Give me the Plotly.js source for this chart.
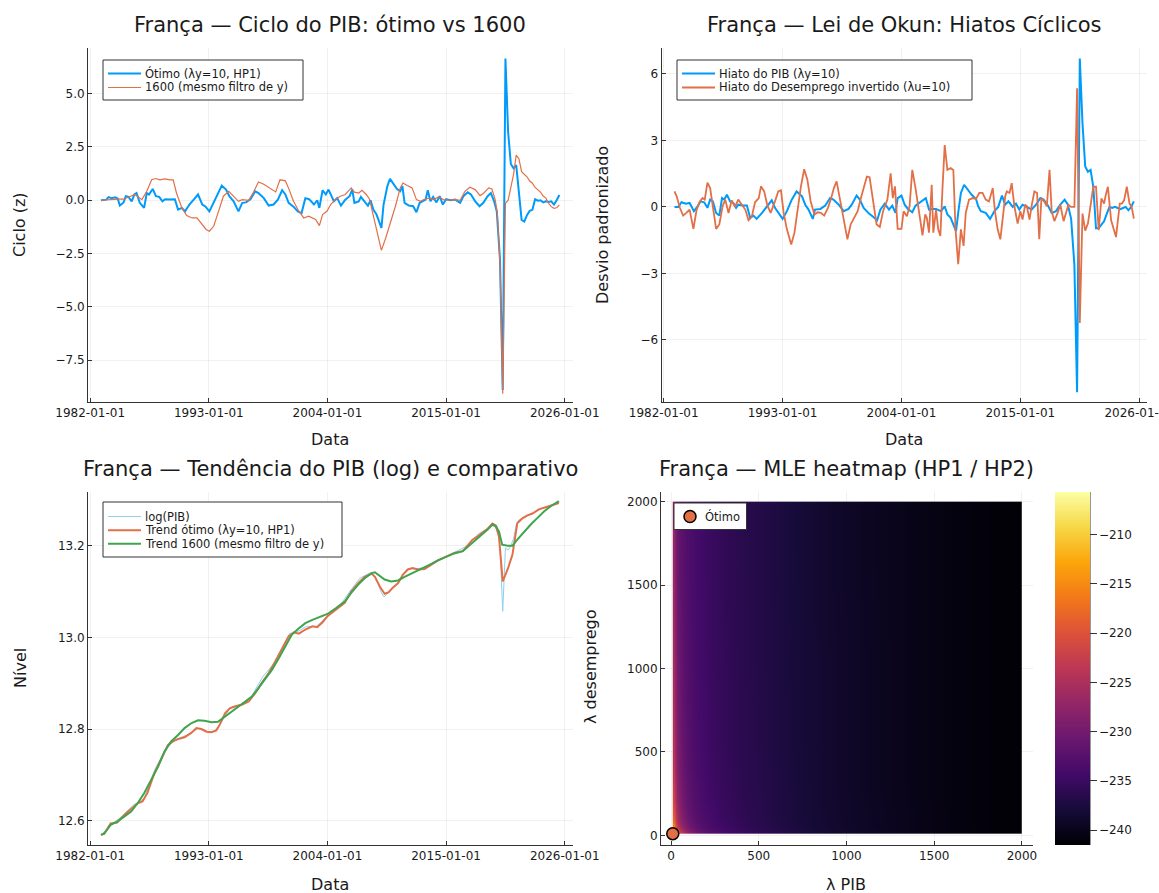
<!DOCTYPE html>
<html><head><meta charset="utf-8">
<script src="https://cdn.plot.ly/plotly-3.0.1.min.js"></script>
<style>html,body{margin:0;padding:0;background:#fff}</style>
</head><body>
<div id="chart" style="width:1159px;height:893px"></div>
<script>
// ---------- DATA (decimal years / values) ----------
const tickDates = ['1982-01-01','1993-01-01','2004-01-01','2015-01-01','2026-01-01'];

// Panel 1: cycle optimum (blue) and 1600 (orange)
const cycOptT = [1983.0,1983.5,1983.7,1984.0,1984.3,1984.55,1984.75,1985.1,1985.3,1985.55,1985.85,1986.1,1986.3,1986.6,1987.0,1987.25,1987.45,1987.8,1988.1,1988.4,1988.7,1988.95,1989.4,1989.85,1990.15,1990.5,1990.8,1991.2,1991.6,1992.0,1992.4,1992.7,1993.05,1993.45,1993.85,1994.2,1994.6,1994.9,1995.3,1995.75,1996.1,1996.45,1996.85,1997.3,1997.6,1998.1,1998.55,1999.0,1999.4,1999.8,2000.1,2000.4,2000.85,2001.25,2001.6,2001.95,2002.3,2002.75,2003.05,2003.25,2003.55,2003.85,2004.1,2004.35,2004.6,2004.9,2005.25,2005.65,2006.05,2006.3,2006.5,2006.9,2007.1,2007.5,2007.75,2008.0,2008.25,2008.55,2008.75,2009.0,2009.2,2009.55,2009.8,2010.15,2010.45,2010.75,2010.95,2011.15,2011.55,2011.95,2012.25,2012.55,2012.9,2013.1,2013.3,2013.55,2013.8,2014.1,2014.4,2014.7,2015.0,2015.4,2015.85,2016.3,2016.6,2017.0,2017.3,2017.7,2018.1,2018.45,2018.85,2019.15,2019.45,2019.7,2020.0,2020.25,2020.5,2020.75,2021.0,2021.25,2021.5,2021.75,2022.0,2022.25,2022.5,2022.75,2023.0,2023.25,2023.5,2023.75,2024.0,2024.25,2024.5,2024.75,2025.0,2025.25,2025.5];
const cycOptV = [0,0.03,0.15,0.1,0.14,0.08,-0.25,-0.1,0.19,0.16,-0.05,0.27,0.34,-0.12,-0.36,0.34,0.27,0.53,0.19,0.16,-0.05,0.05,0.03,0.05,-0.44,-0.36,-0.52,-0.2,0.03,0.27,-0.2,-0.3,-0.52,-0.12,0.34,0.69,0.5,0.19,-0.05,-0.52,-0.12,-0.1,0.05,0.42,0.34,0.1,-0.25,-0.2,0.03,0.47,0.27,-0.12,-0.3,-0.52,-0.6,0.1,0.05,-0.2,0.0,-0.36,0.47,0.27,0.5,0.19,-0.05,0.1,-0.25,0.03,0.19,0.5,-0.12,-0.05,0.16,-0.1,-0.25,0,-0.44,-0.67,-0.98,-1.3,-0.2,0.66,1.0,0.73,0.53,0.42,0.66,-0.12,-0.25,-0.28,-0.56,-0.12,0,0.03,0.47,-0.05,0.16,-0.1,0.19,-0.2,0.05,0,0.03,-0.12,0.19,0.37,0.27,-0.05,-0.28,-0.12,0.19,0.34,-0.05,-0.52,-2.8,-8.9,6.65,3.2,1.7,1.5,1.65,0.4,-0.92,-1.0,-0.7,-0.5,-0.45,0.05,-0.02,0.0,-0.1,-0.05,-0.08,-0.05,-0.2,0.0,0.25];

const cyc1600T = [1983.0,1984.0,1984.6,1985.1,1985.7,1986.15,1986.8,1987.25,1987.7,1988.1,1988.45,1988.95,1989.4,1989.7,1990.0,1990.5,1990.95,1991.45,1991.9,1992.4,1992.75,1993.05,1993.45,1993.9,1994.35,1994.85,1995.3,1995.75,1996.1,1996.7,1997.15,1997.6,1998.1,1998.7,1999.2,1999.6,2000.1,2000.45,2000.85,2001.3,2001.8,2002.25,2002.9,2003.25,2003.55,2003.95,2004.3,2004.75,2005.2,2005.65,2006.2,2006.5,2006.9,2007.2,2007.6,2007.9,2008.15,2008.45,2008.75,2009.0,2009.4,2009.85,2010.3,2010.75,2011.0,2011.4,2011.85,2012.25,2012.6,2013.0,2013.4,2013.85,2014.3,2014.75,2015.2,2015.85,2016.3,2016.75,2017.2,2017.7,2018.15,2018.5,2018.95,2019.25,2019.55,2019.75,2020.0,2020.25,2020.5,2020.75,2021.0,2021.25,2021.5,2021.75,2022.0,2022.25,2022.5,2022.75,2023.0,2023.25,2023.5,2023.75,2024.0,2024.25,2024.5,2024.75,2025.0,2025.25,2025.5];
const cyc1600V = [0,0.05,0.05,0.05,0.17,0.27,0.03,0.42,0.96,1.02,0.96,1.0,0.96,0.96,0.34,-0.36,-0.72,-0.83,-0.83,-1.14,-1.37,-1.45,-1.22,-0.52,0.19,0.42,0.19,-0.05,0.03,0.0,0.39,0.86,0.75,0.53,0.39,0.96,0.91,0.5,-0.05,-0.47,-0.83,-0.75,-0.9,-1.19,-0.67,-0.52,-0.2,0.05,0.19,0.27,0.58,0.38,0.34,0.47,0.27,0.05,-0.52,-1.22,-1.84,-2.35,-1.77,-1.06,-0.28,0.58,0.81,0.69,0.58,0.03,-0.05,0.05,0.1,0.03,0.16,0.03,0,0.03,0,0.42,0.61,0.5,0.22,0.34,0.58,0.53,0.03,-0.6,-3.0,-9.07,-0.14,0.0,0.6,1.2,2.12,1.95,1.34,1.2,1.1,0.9,0.8,0.6,0.5,0.38,0.2,0.1,-0.14,-0.3,-0.38,-0.35,-0.22];

// Panel 2: Okun gaps
const gapYT = [1983.0,1983.35,1983.65,1984.05,1984.4,1984.8,1985.1,1985.4,1985.75,1986.05,1986.3,1986.55,1986.85,1987.15,1987.4,1987.6,1987.85,1988.15,1988.45,1988.7,1988.9,1989.3,1989.7,1990.0,1990.3,1990.6,1991.1,1991.55,1992.0,1992.3,1992.6,1993.0,1993.4,1993.85,1994.3,1994.8,1995.1,1995.4,1995.8,1996.0,1996.5,1996.95,1997.4,1997.7,1998.2,1998.65,1999.1,1999.4,1999.85,2000.15,2000.5,2001.0,2001.4,2001.75,2002.05,2002.45,2002.85,2003.15,2003.45,2003.65,2004.0,2004.3,2004.6,2005.0,2005.3,2005.8,2006.25,2006.55,2006.85,2007.2,2007.65,2008.0,2008.25,2008.55,2008.8,2009.05,2009.25,2009.5,2009.8,2010.1,2010.5,2010.9,2011.1,2011.35,2011.8,2012.2,2012.6,2012.95,2013.3,2013.6,2013.9,2014.3,2014.6,2014.9,2015.2,2015.6,2016.05,2016.45,2016.85,2017.15,2017.55,2017.9,2018.3,2018.7,2019.1,2019.4,2019.7,2020.0,2020.25,2020.5,2020.75,2021.0,2021.25,2021.5,2021.75,2022.0,2022.25,2022.5,2022.75,2023.0,2023.25,2023.5,2023.75,2024.0,2024.25,2024.5,2024.75,2025.0,2025.25,2025.5];
const gapYV = [0,0,0.21,0.15,0.18,-0.19,0,0.25,0.21,-0.04,0.33,0.25,-0.27,-0.39,0.4,0.33,0.55,0.25,0.18,-0.04,0.1,0.06,0.06,-0.49,-0.39,-0.54,-0.27,0.03,0.3,-0.04,-0.27,-0.54,-0.19,0.33,0.7,0.48,0.1,-0.12,-0.54,-0.12,-0.09,0.06,0.4,0.33,0.1,-0.19,-0.09,0.1,0.51,0.33,-0.04,-0.3,-0.45,-0.6,-0.12,0.15,-0.12,0.06,-0.27,0.4,0.51,0.1,-0.09,-0.24,0.06,0.25,0.4,-0.12,-0.09,-0.09,-0.19,0.03,-0.34,-0.49,-0.79,-1.09,-0.27,0.63,1.0,0.81,0.55,0.36,0.03,-0.19,-0.27,-0.54,-0.19,0,0.51,0.1,0.25,0,0.15,-0.12,0.1,0,-0.12,0.1,0.4,0.33,0.06,-0.27,-0.19,0.1,0.33,0.1,-0.54,-2.6,-8.36,6.7,3.77,1.82,1.59,1.67,0.91,-0.96,-0.96,-0.8,-0.65,-0.3,0.0,-0.05,0.0,-0.05,-0.1,-0.05,0.0,-0.15,0.0,0.25];

const gapUT = [1983.0,1983.2,1983.5,1983.8,1984.1,1984.4,1984.75,1985.05,1985.35,1985.6,1985.8,1986.05,1986.3,1986.55,1986.85,1987.15,1987.45,1987.7,1988.0,1988.3,1988.6,1988.9,1989.25,1989.55,1989.85,1990.15,1990.45,1990.8,1991.0,1991.3,1991.6,1991.9,1992.3,1992.6,1992.85,1993.1,1993.4,1993.8,1994.1,1994.4,1994.7,1995.0,1995.3,1995.6,1995.95,1996.25,1996.55,1996.85,1997.2,1997.5,1997.75,1998.0,1998.3,1998.6,1999.0,1999.3,1999.6,1999.95,2000.25,2000.55,2000.8,2001.05,2001.4,2001.7,2002.0,2002.3,2002.7,2003.0,2003.2,2003.4,2003.65,2004.0,2004.2,2004.5,2004.75,2005.0,2005.3,2005.65,2005.95,2006.2,2006.35,2006.55,2006.8,2006.95,2007.2,2007.4,2007.6,2007.8,2008.0,2008.25,2008.55,2008.8,2009.0,2009.25,2009.5,2009.75,2009.95,2010.25,2010.6,2010.9,2011.2,2011.5,2011.8,2012.1,2012.45,2012.65,2012.9,2013.15,2013.35,2013.6,2013.75,2014.0,2014.2,2014.45,2014.75,2015.0,2015.2,2015.45,2015.6,2015.85,2016.05,2016.3,2016.55,2016.75,2016.95,2017.2,2017.45,2017.7,2017.9,2018.15,2018.45,2018.7,2019.0,2019.25,2019.45,2019.7,2020.0,2020.25,2020.5,2020.75,2021.0,2021.25,2021.5,2021.75,2022.0,2022.25,2022.5,2022.75,2022.9,2023.1,2023.4,2023.85,2024.2,2024.4,2024.6,2024.85,2025.1,2025.3,2025.5];
const gapUV = [0.7,0.48,-0.04,-0.39,-0.27,-0.12,-0.99,-0.12,0.25,0.4,0.33,1.1,0.85,0.1,-0.99,-0.79,0.03,0.33,-0.27,0.3,0,0.33,0.1,-0.12,-0.6,-0.45,0.21,0.4,0.93,0.7,0.06,-0.27,0.25,0.7,0.75,-0.27,-1.01,-1.69,-1.16,-0.12,0.93,1.7,1.22,0.25,-0.34,-0.24,-0.27,-0.39,-0.04,0.4,0.85,1.15,0.4,-0.34,-1.46,-0.79,-0.49,-0.19,0.4,0.93,1.37,1.34,0.18,-0.79,-0.9,-0.19,0.33,1.52,0.4,0.93,-0.99,-0.99,-0.2,-0.42,0.03,1.67,0.85,-0.19,-1.28,-0.34,-0.49,-1.16,1.0,-1.16,-0.12,-1.01,-1.31,0.85,2.79,1.67,1.75,1.67,-1.01,-2.58,-1.01,-1.76,-0.27,0.33,0.4,0.36,0.63,0.63,0.33,0.25,0.85,-0.19,-1.01,-1.46,-0.57,0.48,0.7,0.63,1.07,0.03,-0.75,-0.19,-0.57,0.1,0.03,-0.57,0.06,0.7,0.63,-1.46,0.4,0.25,0.03,1.67,-0.19,-0.64,-0.27,0.1,-0.64,-0.19,0.1,0.0,0.0,5.35,-5.24,-0.3,-1.07,-0.75,0.0,0.91,0.91,-1.05,0.38,0.15,0.53,0.91,-0.6,-1.36,0.15,0.15,0.3,0.91,0.15,0.0,-0.53];

// Panel 3: log GDP and trends
const logPibT = [1983.0,1984.0,1985.0,1986.0,1987.0,1988.0,1989.0,1990.0,1991.0,1992.0,1992.5,1993.0,1993.5,1994.0,1995.0,1996.0,1997.0,1998.0,1999.0,2000.0,2000.5,2001.0,2002.0,2003.0,2004.0,2005.0,2006.0,2007.0,2008.0,2008.5,2008.75,2009.0,2009.25,2009.5,2010.0,2010.5,2011.0,2011.5,2012.0,2013.0,2014.0,2015.0,2016.0,2017.0,2018.0,2019.0,2019.5,2019.75,2020.0,2020.25,2020.5,2020.75,2021.0,2021.25,2021.5,2021.75,2022.0,2022.5,2023.0,2023.5,2024.0,2024.5,2025.0,2025.5];
const logPibV = [12.569,12.592,12.611,12.634,12.648,12.712,12.757,12.778,12.787,12.801,12.799,12.793,12.796,12.809,12.847,12.854,12.873,12.914,12.942,12.985,13.009,13.009,13.023,13.024,13.046,13.064,13.098,13.129,13.141,13.130,13.112,13.097,13.088,13.094,13.108,13.119,13.138,13.150,13.149,13.152,13.166,13.176,13.188,13.200,13.226,13.240,13.246,13.243,13.200,13.057,13.195,13.190,13.200,13.215,13.245,13.256,13.260,13.266,13.270,13.277,13.282,13.286,13.289,13.295];

const trendOptT = [1983.0,1983.3,1983.9,1984.5,1985.3,1985.9,1986.4,1986.85,1987.3,1987.95,1988.6,1989.2,1989.65,1990.15,1990.75,1991.4,1991.85,1992.3,1992.8,1993.25,1993.7,1994.0,1994.5,1994.95,1995.4,1996.05,1996.7,1997.3,1997.9,1998.55,1999.15,1999.8,2000.4,2000.9,2001.35,2001.95,2002.6,2003.05,2003.55,2004.0,2004.8,2005.6,2006.2,2006.85,2007.45,2008.1,2008.4,2008.85,2009.3,2009.65,2010.05,2010.55,2011.0,2011.45,2011.9,2012.4,2013.0,2013.6,2014.25,2015.0,2015.75,2016.55,2017.0,2017.45,2017.9,2018.4,2018.85,2019.3,2019.6,2019.9,2020.25,2020.7,2021.15,2021.6,2022.1,2022.55,2023.0,2023.6,2024.25,2024.85,2025.45];
const trendOptV = [12.569,12.571,12.594,12.596,12.616,12.627,12.638,12.642,12.660,12.703,12.736,12.765,12.773,12.778,12.782,12.792,12.802,12.800,12.794,12.793,12.797,12.809,12.834,12.845,12.849,12.853,12.860,12.878,12.900,12.922,12.947,12.976,13.002,13.011,13.008,13.017,13.024,13.022,13.033,13.046,13.060,13.075,13.100,13.118,13.132,13.139,13.132,13.111,13.095,13.098,13.108,13.118,13.137,13.148,13.151,13.148,13.149,13.158,13.168,13.176,13.184,13.188,13.200,13.213,13.220,13.228,13.237,13.248,13.244,13.220,13.122,13.148,13.180,13.249,13.260,13.266,13.270,13.279,13.284,13.287,13.293];

const trend1600T = [1983.0,1983.3,1983.9,1984.5,1985.15,1985.8,1986.4,1987.0,1987.65,1988.3,1988.9,1989.5,1990.15,1990.75,1991.4,1992.0,1992.6,1993.25,1993.85,1994.5,1995.1,1995.75,1996.35,1997.0,1997.6,1998.25,1998.85,1999.5,2000.1,2000.7,2001.35,2001.95,2002.6,2003.2,2004.0,2004.8,2005.6,2006.2,2006.85,2007.45,2008.1,2008.4,2008.85,2009.3,2009.9,2010.55,2011.15,2011.9,2012.7,2013.45,2014.25,2015.0,2015.75,2016.55,2017.0,2017.6,2018.2,2018.85,2019.3,2019.6,2019.9,2020.2,2020.7,2021.15,2021.6,2022.25,2022.85,2023.45,2024.1,2024.7,2025.45];
const trend1600V = [12.569,12.572,12.591,12.598,12.609,12.620,12.638,12.660,12.689,12.718,12.751,12.773,12.787,12.802,12.813,12.819,12.818,12.815,12.816,12.827,12.838,12.849,12.858,12.871,12.889,12.911,12.929,12.955,12.980,13.006,13.020,13.031,13.038,13.044,13.051,13.064,13.078,13.097,13.115,13.129,13.140,13.142,13.134,13.126,13.122,13.124,13.132,13.140,13.149,13.158,13.168,13.175,13.183,13.188,13.197,13.209,13.222,13.235,13.246,13.242,13.231,13.202,13.200,13.200,13.213,13.231,13.246,13.260,13.275,13.286,13.297];

// Panel 4: MLE surface (cell edges in lambda, z per cell: rows = lambda desemprego, cols = lambda PIB)
const lamPibEdges = [10,20,35,60,100,150,220,320,450,650,900,1200,1500,1800,2000];
const lamDesEdges = [10,25,50,100,200,400,800,1400,2000];
const mleZ = [
  [-207,-214,-221,-226,-229.5,-231.8,-233.5,-234.8,-236.1,-237.6,-238.9,-239.9,-240.7,-241.3],
  [-213,-218.5,-224.2,-228.0,-230.7,-232.7,-234.0,-235.2,-236.4,-237.8,-239.0,-240.0,-240.8,-241.3],
  [-217,-221.8,-226.2,-229.4,-231.6,-233.2,-234.4,-235.5,-236.6,-237.9,-239.1,-240.0,-240.8,-241.3],
  [-220,-224.1,-227.7,-230.4,-232.3,-233.6,-234.7,-235.7,-236.7,-238.0,-239.1,-240.0,-240.8,-241.3],
  [-222.6,-226.1,-229.0,-231.3,-232.8,-234.0,-235.0,-235.9,-236.8,-238.0,-239.2,-240.1,-240.8,-241.3],
  [-224.6,-227.6,-230.0,-231.9,-233.3,-234.3,-235.2,-236.0,-236.9,-238.1,-239.2,-240.1,-240.8,-241.3],
  [-226,-228.7,-230.9,-232.5,-233.6,-234.5,-235.3,-236.1,-237.0,-238.1,-239.2,-240.1,-240.8,-241.3],
  [-227,-229.5,-231.5,-232.8,-233.8,-234.6,-235.4,-236.2,-237.0,-238.2,-239.3,-240.1,-240.8,-241.3]
];
const optLamPib = [10];
const optLamDes = [10];
const cbTicks = [-240,-235,-230,-225,-220,-215,-210];

// legend labels
const leg1 = ['Ótimo (λy=10, HP1)', '1600 (mesmo filtro de y)'];
const leg2 = ['Hiato do PIB (λy=10)', 'Hiato do Desemprego invertido (λu=10)'];
const leg3 = ['log(PIB)', 'Trend ótimo (λy=10, HP1)', 'Trend 1600 (mesmo filtro de y)'];
const leg4 = ['Ótimo'];

// ---------- helpers ----------
function dec2date(y){
  const yr = Math.floor(y), f = y - yr;
  const a = Date.UTC(yr,0,1), b = Date.UTC(yr+1,0,1);
  return new Date(a + f*(b-a)).toISOString().slice(0,10);
}
const W = 1159, H = 893;
const px = x => x / W;
const py = y => 1 - y / H;

const BLUE = '#009AFA', ORANGE = '#E36F47', GREEN = '#3EA44E', LIGHTBLUE = '#8fd0ec';
const FONT = 'DejaVu Sans, sans-serif';
const TXT = '#1a1a1a';
const inferno = [[0,'#000004'],[0.1,'#160b39'],[0.2,'#420a68'],[0.3,'#6a176e'],[0.4,'#932667'],[0.5,'#bc3754'],[0.6,'#dd513a'],[0.7,'#f37819'],[0.8,'#fca50a'],[0.9,'#f6d746'],[1,'#fcffa4']];

const xr = [dec2date(1981.8), dec2date(2026.72)];

const traces = [
  {x: cycOptT.map(dec2date), y: cycOptV, type:'scatter', mode:'lines', name:leg1[0], line:{color:BLUE, width:2}, xaxis:'x', yaxis:'y'},
  {x: cyc1600T.map(dec2date), y: cyc1600V, type:'scatter', mode:'lines', name:leg1[1], line:{color:ORANGE, width:1.2}, xaxis:'x', yaxis:'y'},
  {x: gapYT.map(dec2date), y: gapYV, type:'scatter', mode:'lines', name:leg2[0], line:{color:BLUE, width:2}, xaxis:'x2', yaxis:'y2'},
  {x: gapUT.map(dec2date), y: gapUV, type:'scatter', mode:'lines', name:leg2[1], line:{color:ORANGE, width:1.8}, xaxis:'x2', yaxis:'y2'},
  {x: logPibT.map(dec2date), y: logPibV, type:'scatter', mode:'lines', name:leg3[0], line:{color:LIGHTBLUE, width:1}, xaxis:'x3', yaxis:'y3'},
  {x: trendOptT.map(dec2date), y: trendOptV, type:'scatter', mode:'lines', name:leg3[1], line:{color:ORANGE, width:2}, xaxis:'x3', yaxis:'y3'},
  {x: trend1600T.map(dec2date), y: trend1600V, type:'scatter', mode:'lines', name:leg3[2], line:{color:GREEN, width:2}, xaxis:'x3', yaxis:'y3'},
  {x: lamPibEdges, y: lamDesEdges, z: mleZ, type:'heatmap', zsmooth:'best', colorscale: inferno, zmin:-241.5, zmax:-205.7, showlegend:false, xaxis:'x4', yaxis:'y4',
   colorbar:{xref:'paper', yref:'paper', x:px(1055), xanchor:'left', y:py(668.5), yanchor:'middle', lenmode:'pixels', len:353, thickness:35, thicknessmode:'pixels',
     outlinewidth:0, tickvals:cbTicks, ticks:'outside', ticklen:7, tickcolor:'#333', tickfont:{family:FONT, size:12, color:TXT}, xpad:0, ypad:0}},
  {x: optLamPib, y: optLamDes, type:'scatter', mode:'markers', name:leg4[0], marker:{color:ORANGE, size:12, line:{color:'#000', width:1.5}}, xaxis:'x4', yaxis:'y4', cliponaxis:false}
];

function ax(extra){ return Object.assign({showline:true, linecolor:'#333', linewidth:1, mirror:false, ticks:'inside', ticklen:4, tickcolor:'#333',
  showgrid:true, gridcolor:'rgba(0,0,0,0.09)', gridwidth:0.6, zeroline:false, tickfont:{family:FONT, size:12, color:TXT}}, extra); }
const xax = (l, r, extra) => ax(Object.assign({domain:[px(l), px(r)], ticklabeloverflow:'allow'}, extra));
const yax = (t, b, extra) => ax(Object.assign({domain:[py(b), py(t)]}, extra));

const dateX = {type:'date', range:xr, tickvals:tickDates, ticktext:tickDates};

const ann = (x, y, text, size, rot, anchor) => ({xref:'paper', yref:'paper', x:px(x), y:py(y), text:text, showarrow:false, xanchor:anchor||'center', yanchor:'middle', textangle: rot||0, font:{family:FONT, size:size, color:TXT}});

const shapes = [{type:'line', xref:'paper', yref:'paper', x0:px(1090), x1:px(1090), y0:py(492), y1:py(845), line:{color:'#333', width:1}}];
const annotations = [
  ann(330, 25, 'França — Ciclo do PIB: ótimo vs 1600', 21),
  ann(904, 25, 'França — Lei de Okun: Hiatos Cíclicos', 21),
  ann(330, 469, 'França — Tendência do PIB (log) e comparativo', 21),
  ann(846, 469, 'França — MLE heatmap (HP1 / HP2)', 21),
  ann(330, 440, 'Data', 16), ann(904, 440, 'Data', 16), ann(330, 884, 'Data', 16), ann(846, 884, 'λ PIB', 16),
  ann(19, 225, 'Ciclo (z)', 16, -90), ann(602, 225, 'Desvio padronizado', 16, -90),
  ann(20, 668, 'Nível', 16, -90), ann(590, 667, 'λ desemprego', 16, -90)
];

// hand-drawn legend boxes, mimicking the reference layout
function legendBox(x0, y0, x1, y1, rows){
  shapes.push({type:'rect', xref:'paper', yref:'paper', layer:'above', x0:px(x0), x1:px(x1), y0:py(y1), y1:py(y0), fillcolor:'#fff', line:{color:'#333', width:1}});
  rows.forEach(r => {
    if (r.kind === 'line') {
      shapes.push({type:'line', xref:'paper', yref:'paper', layer:'above', x0:px(r.sx0), x1:px(r.sx1), y0:py(r.y), y1:py(r.y), line:{color:r.color, width:r.width}});
    } else {
      shapes.push({type:'circle', xref:'paper', yref:'paper', layer:'above', xsizemode:'pixel', ysizemode:'pixel', xanchor:px(r.cx), yanchor:py(r.y), x0:-6, x1:6, y0:-6, y1:6, fillcolor:r.color, line:{color:'#000', width:1.5}});
    }
    annotations.push(ann(r.tx, r.y, r.text, 11.5, 0, 'left'));
  });
}
legendBox(103, 60, 303, 100, [
  {kind:'line', sx0:108, sx1:141, y:73.5, color:BLUE, width:2, tx:143, text:leg1[0]},
  {kind:'line', sx0:108, sx1:141, y:87.5, color:ORANGE, width:1.2, tx:143, text:leg1[1]}
]);
legendBox(677, 60, 972, 100, [
  {kind:'line', sx0:682, sx1:715, y:73.5, color:BLUE, width:2, tx:717, text:leg2[0]},
  {kind:'line', sx0:682, sx1:715, y:87.5, color:ORANGE, width:1.8, tx:717, text:leg2[1]}
]);
legendBox(103, 502, 342, 557, [
  {kind:'line', sx0:108, sx1:141, y:516.5, color:LIGHTBLUE, width:1, tx:143, text:leg3[0]},
  {kind:'line', sx0:108, sx1:141, y:530.2, color:ORANGE, width:2, tx:143, text:leg3[1]},
  {kind:'line', sx0:108, sx1:141, y:543.8, color:GREEN, width:2, tx:143, text:leg3[2]}
]);
legendBox(674, 503, 746.5, 529.5, [
  {kind:'marker', cx:690, y:516.5, color:ORANGE, tx:703, text:leg4[0]}
]);

const layout = {
  width:W, height:H, margin:{l:0, r:0, t:0, b:0}, paper_bgcolor:'#fff', plot_bgcolor:'#fff',
  font:{family:FONT, color:TXT}, showlegend:false,
  xaxis: xax(88, 572.5, Object.assign({anchor:'y'}, dateX)),
  xaxis2: xax(661.5, 1147, Object.assign({anchor:'y2'}, dateX)),
  xaxis3: xax(88, 572.5, Object.assign({anchor:'y3'}, dateX)),
  xaxis4: xax(661, 1033, {anchor:'y4', range:[-57, 2063], tickvals:[0,500,1000,1500,2000]}),
  yaxis: yax(48, 402, {anchor:'x', range:[-9.46, 7.14], tickvals:[-7.5,-5,-2.5,0,2.5,5], tickformat:'.1f'}),
  yaxis2: yax(48, 402, {anchor:'x2', range:[-8.8, 7.17], tickvals:[-6,-3,0,3,6]}),
  yaxis3: yax(492, 845, {anchor:'x3', range:[12.547, 13.317], tickvals:[12.6,12.8,13.0,13.2], tickformat:'.1f'}),
  yaxis4: yax(492, 845, {anchor:'x4', range:[-58, 2058], tickvals:[0,500,1000,1500,2000]}),
  shapes: shapes,
  annotations: annotations
};

Plotly.newPlot('chart', traces, layout, {displayModeBar:false, staticPlot:true});
</script>
</body></html>
